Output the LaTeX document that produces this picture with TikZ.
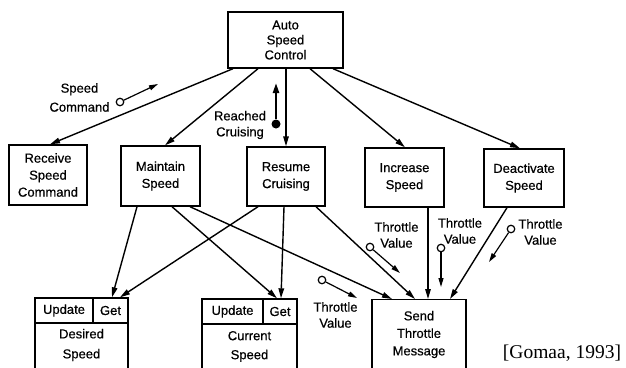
\documentclass[tikz,border=0pt]{standalone}
\usepackage{fontspec}
\setmainfont[FakeBold=0.5]{Liberation Sans}
\newfontfamily\citefont{Liberation Serif}
\usetikzlibrary{arrows.meta,calc}
\begin{document}
\begin{tikzpicture}[x=1pt,y=-1pt,
  every node/.style={font=\fontsize{13}{17}\selectfont, inner sep=0pt},
  module/.style={draw, line width=1.4pt, align=center},
  txt/.style={align=center},
  conn/.style={line width=1.4pt, -{Triangle[length=10pt,width=5.5pt]}},
  msg/.style={line width=1.2pt, -{Triangle[length=9pt,width=5pt]}},
  ctrl/.style={line width=2.2pt, -{Triangle[length=10pt,width=6pt]}},
  opendot/.style={circle, draw, line width=1.2pt, minimum size=7.5pt},
  filldot/.style={circle, fill, minimum size=9pt},
]
\useasboundingbox (0,0) rectangle (626,367);
\clip (0,0) rectangle (626,367);

% control and transformation modules
\node[module, minimum width=115pt, minimum height=56pt, font=\fontsize{13}{15}\selectfont] (asc) at (285.5,40) {Auto\\Speed\\Control};
\node[module, minimum width=78pt, minimum height=60pt] (rsc) at (48,175) {Receive\\Speed\\Command};
\node[module, minimum width=79pt, minimum height=60pt] (ms) at (160.5,176) {Maintain\\Speed};
\node[module, minimum width=78pt, minimum height=59pt] (rc) at (286,176.5) {Resume\\Cruising};
\node[module, minimum width=79pt, minimum height=59pt] (is) at (404.5,177.5) {Increase\\Speed};
\node[module, minimum width=80pt, minimum height=58pt] (dv) at (524,178) {Deactivate\\Speed};

% data abstraction modules
\node[module, minimum width=58pt, minimum height=25pt] (dsupd) at (64,310.5) {Update};
\node[module, minimum width=35pt, minimum height=25pt] (dsget) at (110.5,310.5) {Get};
\node[module, minimum width=93pt, minimum height=70pt, anchor=north] (ds) at (81.5,323) {};
\node[txt, font=\fontsize{13}{20}\selectfont] at (81.5,345) {Desired\\Speed};

\node[module, minimum width=61pt, minimum height=25pt] (csupd) at (232.5,311.5) {Update};
\node[module, minimum width=34pt, minimum height=25pt] (csget) at (280,311.5) {Get};
\node[module, minimum width=95pt, minimum height=70pt, anchor=north] (cs) at (249.5,324) {};
\node[txt, font=\fontsize{13}{19}\selectfont] at (249.5,346.5) {Current\\Speed};

% output module
\node[module, minimum width=94pt, minimum height=90pt, anchor=north] (stm) at (419,299) {};
\node[txt, font=\fontsize{13}{17.5}\selectfont] at (419,334.5) {Send\\Throttle\\Message};

\node[font=\citefont\fontsize{19.5}{22}\selectfont, anchor=base] (cite) at (562,358) {[Gomaa, 1993]};

% calls from the controller
\draw[conn] ($(asc.south)+(-52.5,0)$) -- ($(rsc.north)+(2,0)$);
\draw[conn] ($(asc.south)+(-27.5,0)$) -- ($(ms.north)+(4.5,0)$);
\draw[conn] ($(asc.south)+(0.5,0)$) -- (rc.north);
\draw[conn] ($(asc.south)+(24.5,0)$) -- ($(is.north)+(0.5,0)$);
\draw[conn] ($(asc.south)+(47.5,0)$) -- ($(dv.north)+(-4,0)$);

% calls to the data and output modules
\draw[conn] ($(ms.south)+(-23.5,0)$) -- ($(dsget.north)+(1.5,0)$);
\draw[conn] ($(ms.south)+(11.5,0)$) -- ($(csget.north)+(-3,0)$);
\draw[conn] ($(ms.south)+(29.5,0)$) -- ($(stm.north)+(-27,0)$);
\draw[conn] ($(rc.south)+(-28,0)$) -- ($(dsget.north)+(9.5,0)$);
\draw[conn] ($(rc.south)+(-2,0)$) -- ($(csget.north)+(1,0)$);
\draw[conn] ($(rc.south)+(30,0)$) -- ($(stm.north)+(-4,0)$);
\draw[conn] ($(is.south)+(23.5,0)$) -- ($(stm.north)+(9,0)$);
\draw[conn] ($(dv.south)+(-17,0)$) -- ($(stm.north)+(31,0)$);

% parameters and flags
\node[opendot] (sc) at (120,102) {};
\coordinate (sce) at (158,84);
\draw[msg] (sc) -- (sce);
\node[txt, font=\fontsize{13}{19}\selectfont] (sclbl) at (79.5,97.5) {Speed\\Command};

\node[filldot] (rcd) at (276,124) {};
\coordinate (rce) at (276,83);
\draw[ctrl] (rcd) -- (rce);
\node[txt, font=\fontsize{13}{16}\selectfont] (rclbl) at (240,125) {Reached\\Cruising};

\node[opendot] (tv1) at (370,247) {};
\coordinate (tv1e) at (400,273);
\draw[msg] (tv1) -- (tv1e);
\node[txt, font=\fontsize{13}{16}\selectfont] (tv1lbl) at (396.5,235) {Throttle\\Value};

\node[opendot] (tv2) at (441,248) {};
\coordinate (tv2e) at (441,287);
\draw[msg] (tv2) -- (tv2e);
\node[txt, font=\fontsize{13}{16}\selectfont] (tv2lbl) at (460,231) {Throttle\\Value};

\node[opendot] (tv3) at (511,229) {};
\coordinate (tv3e) at (489,262);
\draw[msg] (tv3) -- (tv3e);
\node[txt, font=\fontsize{13}{16}\selectfont] (tv3lbl) at (540.5,232) {Throttle\\Value};

\node[opendot] (tv4) at (322,280) {};
\coordinate (tv4e) at (357,298);
\draw[msg] (tv4) -- (tv4e);
\node[txt, font=\fontsize{13}{16}\selectfont] (tv4lbl) at (335.5,315) {Throttle\\Value};
\end{tikzpicture}
\end{document}
